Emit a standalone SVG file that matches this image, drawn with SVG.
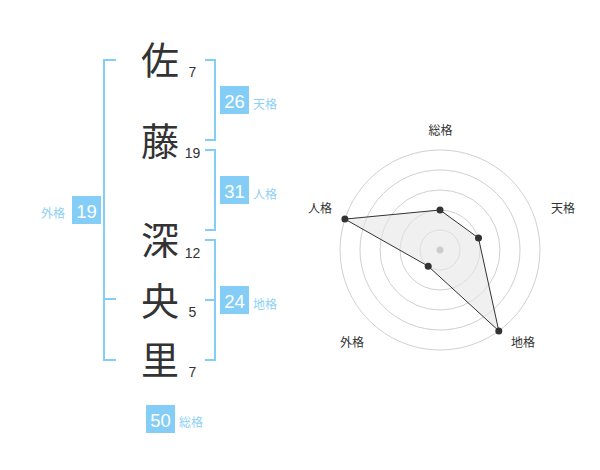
<svg xmlns="http://www.w3.org/2000/svg" width="600" height="470" viewBox="0 0 600 470">
<style>
.ch{font-family:"Noto Sans CJK JP","Noto Sans CJK SC",sans-serif;font-size:38px;fill:#333;text-anchor:middle}
.st{font-family:"Liberation Sans",Arial,sans-serif;font-size:14px;fill:#333;text-anchor:middle}
.br{fill:none;stroke:#84cdf7;stroke-width:2}
.bx{fill:#84cdf7}
.bn{font-family:"Liberation Sans",Arial,sans-serif;font-size:18.5px;fill:#fff;text-anchor:middle}
.lb{font-family:"Noto Sans CJK JP","Noto Sans CJK SC",sans-serif;font-size:12px;fill:#8ed0f5}
.rl{font-family:"Noto Sans CJK JP","Noto Sans CJK SC",sans-serif;font-size:12px;fill:#333;text-anchor:middle}
.gr{fill:none;stroke:#d0d0d0;stroke-width:1}
.pt{fill:#333}
</style>
<g id="chars">
<g id="c1"><text class="ch" x="160" y="74">佐</text><text class="st" x="192.5" y="77">7</text></g>
<g id="c2"><text class="ch" x="160" y="155">藤</text><text class="st" x="192.5" y="157.5">19</text></g>
<g id="c3"><text class="ch" x="160" y="254">深</text><text class="st" x="192.5" y="257.5">12</text></g>
<g id="c4"><text class="ch" x="160" y="315">央</text><text class="st" x="192.5" y="317">5</text></g>
<g id="c5"><text class="ch" x="160" y="374">里</text><text class="st" x="192.5" y="377">7</text></g>
</g>
<g id="connectors">
<path class="br" d="M116,60 H104 V360 H116 M104,299 H116"/>
<path class="br" d="M205,60 H215 V140 H205"/>
<path class="br" d="M205,150 H215 V230 H205"/>
<path class="br" d="M205,240 H215 V360 H205 M215,300 H205"/>
</g>
<g id="tenkaku"><rect class="bx" x="220" y="86" width="29" height="28"/><text class="bn" x="234.5" y="107.5">26</text><text class="lb" x="253" y="109">天格</text></g>
<g id="jinkaku"><rect class="bx" x="220" y="176" width="29" height="28"/><text class="bn" x="234.5" y="197.5">31</text><text class="lb" x="253" y="199">人格</text></g>
<g id="chikaku"><rect class="bx" x="220" y="286" width="29" height="28"/><text class="bn" x="234.5" y="307.5">24</text><text class="lb" x="253" y="309">地格</text></g>
<g id="gaikaku"><rect class="bx" x="72" y="196" width="29" height="28"/><text class="bn" x="86.5" y="217.5">19</text><text class="lb" x="41" y="218">外格</text></g>
<g id="soukaku"><rect class="bx" x="146" y="405" width="29" height="28"/><text class="bn" x="160.5" y="426.5">50</text><text class="lb" x="179" y="427">総格</text></g>
<g id="radar">
<circle class="gr" cx="440" cy="250" r="20"/>
<circle class="gr" cx="440" cy="250" r="40"/>
<circle class="gr" cx="440" cy="250" r="60"/>
<circle class="gr" cx="440" cy="250" r="80"/>
<circle class="gr" cx="440" cy="250" r="100"/>
<polygon points="440,210 478.5,238 498.8,330.9 428.2,266.2 344.9,219.1" fill="#e6e6e6" fill-opacity="0.6" stroke="#333" stroke-width="1"/>
<circle cx="440" cy="250" r="3.5" fill="#ccc"/>
<circle class="pt" cx="440" cy="210" r="3.5"/>
<circle class="pt" cx="478.5" cy="238" r="3.5"/>
<circle class="pt" cx="498.8" cy="330.9" r="3.5"/>
<circle class="pt" cx="428.2" cy="266.2" r="3.5"/>
<circle class="pt" cx="344.9" cy="219.1" r="3.5"/>
<text class="rl" x="440.5" y="135">総格</text>
<text class="rl" x="563" y="212.5">天格</text>
<text class="rl" x="320" y="212.5">人格</text>
<text class="rl" x="352" y="347">外格</text>
<text class="rl" x="523" y="347">地格</text>
</g>
</svg>
